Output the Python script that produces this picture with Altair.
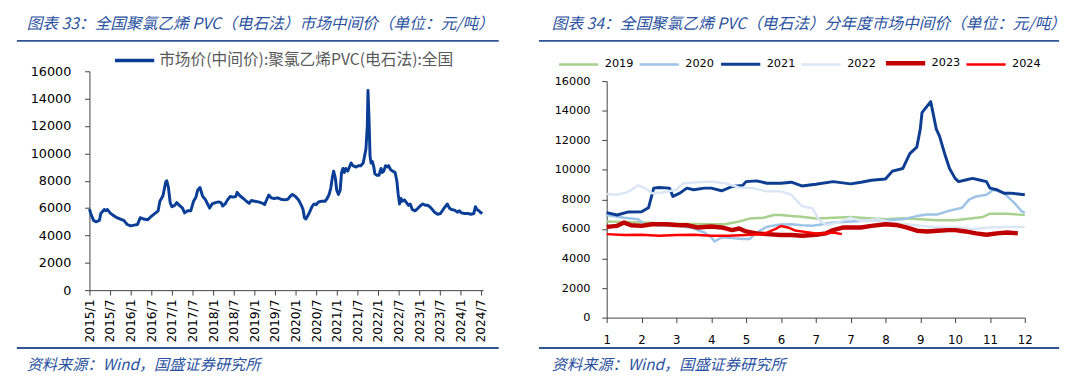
import altair as alt
import pandas as pd

# ---------------- data: left chart (months since 2015/1, price) ----------------
left_months = [0, 0.5, 1.2, 1.9, 2.9, 3.3, 4.3, 4.8, 5.2, 6, 7, 8, 9, 10, 11, 12, 13, 14, 14.8, 15.7,
               17, 18, 19, 20, 20.5, 21.4, 22.2, 22.5, 23, 23.5, 24, 24.8, 25.4, 26.2, 27.1, 27.7, 28.6,
               29.5, 30.3, 31, 31.5, 32.2, 32.9, 33.8, 34.4, 35, 35.7, 36.7, 37.6, 38.3, 38.8, 39.5,
               40.2, 41, 41.8, 42.6, 43, 43.8, 44.8, 45.7, 46.5, 47.1, 48.1, 49.2, 50.5, 51, 51.4,
               52.2, 52.9, 53.8, 54.8, 55.7, 56.9, 57.8, 58.6, 59.1, 60, 61, 61.7, 62.2, 62.6, 63,
               63.5, 64.1, 64.8, 65.4, 66, 66.7, 67.6, 68.6, 69.2, 69.8, 70.3, 70.7, 71.1, 71.6, 72,
               72.5, 73, 73.4, 73.8, 74.2, 74.6, 75.2, 75.7, 76.2, 76.7, 77.6, 78.4, 79, 79.7, 80.1,
               80.5, 80.9, 81.1, 81.4, 81.7, 82, 82.4, 82.8, 83.1, 83.7, 84.3, 84.9, 85.2, 85.7, 86.2,
               86.8, 87.1, 87.7, 88.3, 89, 89.5, 89.9, 90.3, 90.7, 91.1, 91.7, 92.3, 92.9, 93.4, 94,
               94.8, 95.7, 96.5, 97.1, 97.8, 98.6, 99.5, 100.5, 101.4, 102.2, 103, 103.6, 104.2,
               104.8, 105.4, 106.3, 107.1, 107.7, 108.3, 109.2, 110.2, 111.1, 111.9, 112.4, 112.8,
               113.4, 113.8, 114.4]
left_values = [5930, 5500, 5100, 5000, 5100, 5600, 5900, 5800, 5900, 5650, 5450, 5300, 5200, 5100, 4800,
               4700, 4750, 4800, 5300, 5200, 5150, 5400, 5600, 5800, 6500, 6900, 7900, 8000, 7500, 6400,
               6100, 6200, 6400, 6200, 6000, 5650, 5800, 5800, 6500, 6800, 7300, 7500, 6900, 6600, 6300,
               6000, 6300, 6400, 6450, 6400, 6150, 6300, 6600, 6850, 6800, 6850, 7150, 6900, 6700, 6500,
               6350, 6550, 6500, 6450, 6350, 6250, 6500, 6950, 6750, 6700, 6750, 6650, 6600, 6650, 6900,
               7000, 6850, 6550, 6200, 5900, 5300, 5200, 5400, 5700, 6100, 6300, 6250, 6450, 6500, 6500,
               6700, 7000, 7500, 8200, 8700, 8200, 7300, 7000, 7300, 8600, 8900, 8600, 8900, 8700, 9000,
               9300, 9100, 9000, 9100, 9100, 9300, 9800, 10300, 12000, 14600, 12500, 9800, 9300, 9400,
               9000, 8500, 8400, 8400, 8900, 8600, 8700, 9100, 9000, 9100, 8800, 8700, 8600, 8000, 7000,
               6300, 6700, 6500, 6600, 6400, 6200, 6300, 5900, 5800, 6000, 6200, 6300, 6200, 6200, 6000,
               5700, 5550, 5600, 5900, 6100, 6300, 6000, 5900, 5850, 5700, 5800, 5650, 5600, 5600, 5550,
               5600, 6100, 5900, 5800, 5700, 5600]
left_series = "市场价(中间价):聚氯乙烯PVC(电石法):全国"
left_tick_labels = ["2015/1", "2015/7", "2016/1", "2016/7", "2017/1", "2017/7", "2018/1", "2018/7",
                    "2019/1", "2019/7", "2020/1", "2020/7", "2021/1", "2021/7", "2022/1", "2022/7",
                    "2023/1", "2023/7", "2024/1", "2024/7"]

# ---------------- data: right chart (position along month axis, price) ----------------
right_tick_labels = ["1", "2", "3", "4", "5", "6", "7", "7", "8", "9", "10", "11", "12"]
years = ["2019", "2020", "2021", "2022", "2023", "2024"]

t2019 = [0, 1, 2, 3, 3.4, 3.8, 4.1, 4.5, 4.8, 5, 5.3, 5.6, 6, 6.5, 7, 7.5, 8, 8.5, 9, 9.5, 10, 10.5,
         10.8, 11, 11.5, 12]
v2019 = [6500, 6430, 6360, 6320, 6320, 6500, 6700, 6760, 6940, 6940, 6870, 6830, 6700, 6760, 6810,
         6720, 6650, 6720, 6650, 6590, 6590, 6720, 6810, 7030, 7030, 6940]

t2020 = [0, 0.5, 0.9, 1.1, 1.5, 2, 2.4, 2.8, 3.0, 3.1, 3.3, 3.6, 3.9, 4.1, 4.3, 4.6, 5, 5.3, 5.6, 5.9,
         6.2, 6.5, 7, 7.3, 7.6, 8, 8.5, 8.9, 9.2, 9.5, 9.8, 10, 10.2, 10.4, 10.6, 10.9, 11.1, 11.4,
         11.7, 11.9, 12]
v2020 = [6940, 6760, 6650, 6320, 6250, 6210, 6100, 5760, 5430, 5150, 5430, 5380, 5320, 5320, 5760,
         6150, 6300, 6320, 6250, 6210, 6320, 6430, 6500, 6540, 6590, 6590, 6650, 6870, 6980, 6980,
         7210, 7320, 7430, 7980, 8200, 8310, 8650, 8420, 7760, 7210, 7100]

t2021 = [0, 0.3, 0.6, 1, 1.2, 1.35, 1.5, 1.8, 1.9, 2.1, 2.3, 2.5, 2.8, 3, 3.3, 3.6, 3.9, 4, 4.3, 4.6,
         5, 5.3, 5.6, 6, 6.5, 7, 7.3, 7.6, 8, 8.2, 8.5, 8.7, 8.9, 9.0, 9.05, 9.3, 9.46, 9.55, 9.7,
         9.84, 10, 10.1, 10.3, 10.5, 10.7, 10.9, 11, 11.2, 11.4, 11.6, 12]
v2021 = [7100, 6940, 7140, 7160, 7430, 8760, 8800, 8760, 8200, 8420, 8760, 8650, 8760, 8760, 8580,
         8870, 8940, 9200, 9250, 9090, 9090, 9160, 8910, 9020, 9200, 9050, 9160, 9290, 9380, 9910,
         10090, 11090, 11530, 12750, 13870, 14610, 12750, 12300, 11090, 10090, 9420, 9200, 9310,
         9420, 9310, 9200, 8760, 8650, 8420, 8420, 8310]

t2022 = [0, 0.3, 0.6, 0.9, 1.1, 1.3, 1.6, 2, 2.2, 2.6, 3, 3.4, 3.8, 4.2, 4.6, 5, 5.3, 5.6, 5.9, 6.1,
         6.3, 6.6, 7, 7.3, 7.8, 8.2, 8.6, 9, 9.5, 10, 10.5, 11, 11.5, 12]
v2022 = [8360, 8310, 8490, 8940, 8760, 8420, 8470, 8650, 9090, 9160, 9200, 9090, 8800, 8760, 8540,
         8540, 8310, 7540, 7400, 6600, 6250, 6430, 6760, 6540, 6650, 6430, 6320, 6210, 6100, 6100,
         5990, 6100, 6140, 6140]

t2023 = [0, 0.3, 0.5, 0.7, 1, 1.3, 1.7, 2, 2.3, 2.6, 3, 3.3, 3.6, 3.8, 4, 4.3, 4.6, 5, 5.3, 5.6, 6,
         6.3, 6.5, 6.8, 7, 7.3, 7.6, 8, 8.3, 8.6, 8.9, 9.2, 9.5, 9.8, 10, 10.3, 10.6, 10.9, 11.2,
         11.5, 11.8]
v2023 = [6140, 6210, 6430, 6250, 6210, 6320, 6320, 6270, 6250, 6100, 6160, 6100, 5920, 6030, 5830,
         5700, 5650, 5590, 5590, 5540, 5610, 5700, 5920, 6100, 6100, 6100, 6210, 6320, 6270, 6100,
         5880, 5830, 5880, 5920, 5920, 5830, 5700, 5610, 5700, 5760, 5700]

t2024 = [0, 0.5, 1, 1.5, 2, 2.5, 3, 3.5, 4, 4.5, 4.85, 5.0, 5.2, 5.4, 6, 6.3, 6.5, 6.75]
v2024 = [5650, 5590, 5610, 5540, 5590, 5610, 5540, 5540, 5590, 5650, 6000, 6200, 6100, 5900, 5700,
         5700, 5760, 5650]

year_colors = ["#A9D18E", "#9DC3E6", "#0D3E92", "#DAE6F4", "#C00000", "#FF0000"]
year_widths = [2.5, 2.5, 3, 2.5, 4.5, 2.5]

title_left = "图表 33：全国聚氯乙烯 PVC（电石法）市场中间价（单位：元/吨）"
title_right = "图表 34：全国聚氯乙烯 PVC（电石法）分年度市场中间价（单位：元/吨）"
source_text = "资料来源：Wind，国盛证券研究所"

# ---------------- styling ----------------
NUM_FONT = "DejaVu Sans"
CJK_FONT = "Noto Sans CJK SC"
TITLE_BLUE = "#2A52A0"
RULE_BLUE = "#2F5597"
LINE_BLUE = "#0A3E96"
AXIS_COL = "#404040"


def deco_layers(title, tx, ty, rx0, rx1, ry_top, ry_bot, sy):
    one = pd.DataFrame({"t": [title]})
    src = pd.DataFrame({"t": [source_text]})
    dummy = pd.DataFrame({"k": [0]})
    t_layer = alt.Chart(one).mark_text(
        align="left", baseline="top", font=CJK_FONT, fontSize=16, fontStyle="italic",
        color=TITLE_BLUE
    ).encode(x=alt.value(tx), y=alt.value(ty), text="t:N")
    r_top = alt.Chart(dummy).mark_rule(color=RULE_BLUE, strokeWidth=2).encode(
        x=alt.value(rx0), x2=alt.value(rx1), y=alt.value(ry_top))
    r_bot = alt.Chart(dummy).mark_rule(color=RULE_BLUE, strokeWidth=2).encode(
        x=alt.value(rx0), x2=alt.value(rx1), y=alt.value(ry_bot))
    s_layer = alt.Chart(src).mark_text(
        align="left", baseline="middle", font=CJK_FONT, fontSize=15.5, fontStyle="italic",
        color=TITLE_BLUE
    ).encode(x=alt.value(tx), y=alt.value(sy), text="t:N")
    return [t_layer, r_top, r_bot, s_layer]


# ---------------- left panel (origin at x=82, y=71) ----------------
left_df = pd.DataFrame({"m": left_months, "v": left_values, "s": left_series})
left_label_expr = "[" + ",".join("'%s'" % s for s in left_tick_labels) + "][round(datum.value/6)]"

left_line = alt.Chart(left_df).mark_line(strokeWidth=3, strokeJoin="round").encode(
    x=alt.X("m:Q", scale=alt.Scale(domain=[0, 114.6], nice=False, zero=False),
            axis=alt.Axis(values=list(range(0, 115, 6)), labelExpr=left_label_expr,
                          labelAngle=270, labelAlign="right", labelBaseline="middle",
                          labelFont=NUM_FONT, labelFontSize=12.5, labelColor="#000000",
                          labelPadding=4, labelFlush=False, labelOverlap=False,
                          domainColor=AXIS_COL, tickColor=AXIS_COL, tickSize=5,
                          grid=False, title=None)),
    y=alt.Y("v:Q", scale=alt.Scale(domain=[0, 16000], nice=False),
            axis=alt.Axis(values=list(range(0, 16001, 2000)), format="d", labelFont=NUM_FONT,
                          labelFontSize=13, labelColor="#000000", labelPadding=14,
                          domainColor=AXIS_COL, tickColor=AXIS_COL, tickSize=5,
                          grid=False, title=None)),
    color=alt.Color("s:N", scale=alt.Scale(range=[LINE_BLUE]),
                    legend=alt.Legend(orient="none", legendX=24, legendY=-33, title=None,
                                      symbolType="stroke", symbolSize=1600,
                                      symbolStrokeWidth=3.5, labelFont=CJK_FONT,
                                      labelFontSize=16, labelColor="#595959",
                                      labelOffset=3, labelLimit=400)),
)

left = alt.layer(left_line, *deco_layers(title_left, -64, -56, -74, 417, -31, 282, 299)).properties(
    width=401, height=223)

# ---------------- right panel (origin at x=609, y=71; plot 0..16000 drawn 81..322) ----------------
ts = [t2019, t2020, t2021, t2022, t2023, t2024]
vs = [v2019, v2020, v2021, v2022, v2023, v2024]
rows = []
for y, tt, vv in zip(years, ts, vs):
    for a, b in zip(tt, vv):
        rows.append({"year": y, "t": a, "v": b})
right_df = pd.DataFrame(rows)
right_label_expr = "[" + ",".join("'%s'" % s for s in right_tick_labels) + "][round(datum.value)]"

right_legend = alt.Legend(orient="none", legendX=-51, legendY=-31, title=None,
                          direction="horizontal", columns=6, columnPadding=0,
                          symbolType="stroke", symbolSize=1600, labelFont=NUM_FONT,
                          labelFontSize=11.5, labelColor="#000000", labelOffset=4)

right_line = alt.Chart(right_df).mark_line(strokeJoin="round").encode(
    x=alt.X("t:Q", scale=alt.Scale(domain=[0, 12], nice=False, zero=False),
            axis=alt.Axis(values=list(range(0, 13)), labelExpr=right_label_expr,
                          labelFont=NUM_FONT, labelFontSize=12, labelColor="#000000",
                          labelPadding=12, labelFlush=False, labelOverlap=False,
                          domainColor=AXIS_COL, tickColor=AXIS_COL, tickSize=5,
                          grid=False, title=None)),
    y=alt.Y("v:Q", scale=alt.Scale(domain=[0, 16000], nice=False, range=[251, 10]),
            axis=alt.Axis(values=list(range(0, 16001, 2000)), format="d", labelFont=NUM_FONT,
                          labelFontSize=11.5, labelColor="#000000", labelPadding=12,
                          domainColor=AXIS_COL, tickColor=AXIS_COL, tickSize=5,
                          grid=False, title=None)),
    color=alt.Color("year:O", scale=alt.Scale(type="ordinal", domain=years, range=year_colors),
                    legend=right_legend),
    strokeWidth=alt.StrokeWidth("year:O",
                                scale=alt.Scale(type="ordinal", domain=years, range=year_widths),
                                legend=right_legend),
    order=alt.Order("t:Q"),
)

right = alt.layer(right_line, *deco_layers(title_right, -56, -56, -69, 461, -31, 282, 299)).properties(
    width=426, height=251)

chart = alt.hconcat(left, right, spacing=126, bounds="flush").resolve_scale(
    color="independent", strokeWidth="independent"
).properties(
    padding={"left": 8, "top": 5, "right": 0, "bottom": 0}
).configure_view(stroke=None)

chart.save("out.html", embed_options={"renderer": "svg", "actions": False})
